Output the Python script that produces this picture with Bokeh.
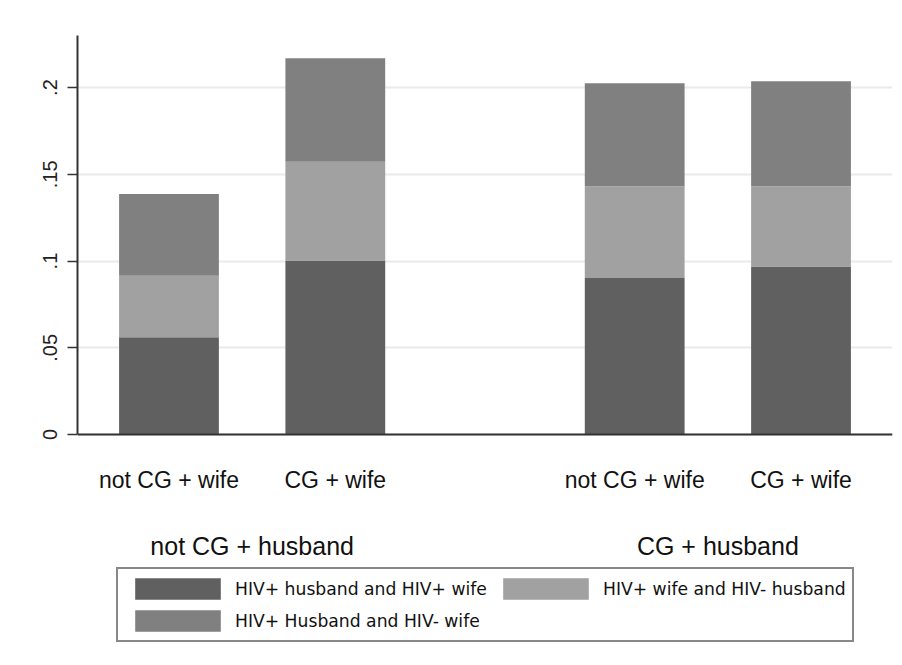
from bokeh.plotting import figure
from bokeh.models import (FactorRange, Range1d, FixedTicker, Legend, LegendItem,
                          ColumnDataSource, CustomJSTickFormatter, Span)
from bokeh.core.properties import value
from bokeh.embed import file_html
from bokeh.resources import INLINE

# ---- data ----
groups = ["not CG + husband", "CG + husband"]
subgroups = ["not CG + wife", "CG + wife"]
both_pos = [0.0561, 0.1003, 0.0903, 0.0968]      # HIV+ husband and HIV+ wife
wife_pos = [0.0354, 0.0570, 0.0528, 0.0463]      # HIV+ wife and HIV- husband
husb_pos = [0.0472, 0.0596, 0.0594, 0.0605]      # HIV+ Husband and HIV- wife
series_labels = ["HIV+ husband and HIV+ wife", "HIV+ wife and HIV- husband",
                 "HIV+ Husband and HIV- wife"]
y_ticks = [0, 0.05, 0.1, 0.15, 0.2]

factors = [(g, s) for g in groups for s in subgroups]
source = ColumnDataSource(dict(x=factors, both=both_pos, wife=wife_pos, husb=husb_pos))

colors = ["#606060", "#a1a1a1", "#808080"]
FONT = "Liberation Sans"
GROUP_PAD = 0.8
Y_TOP = 0.23
PX_PER_UNIT = 1735.0          # vertical pixels per data unit
FRAME_H = 665 - 35            # frame reaches the bottom of the canvas
Y_BOTTOM = Y_TOP - FRAME_H / PX_PER_UNIT

p = figure(width=902, height=665,
           x_range=FactorRange(*factors, group_padding=GROUP_PAD, range_padding=0.05,
                               range_padding_units="absolute"),
           y_range=Range1d(Y_BOTTOM, Y_TOP),
           x_axis_location=None,
           output_backend="svg", toolbar_location=None,
           min_border_left=77, min_border_right=10, min_border_top=35,
           min_border_bottom=0)
p.outline_line_color = None
p.background_fill_color = "white"
p.border_fill_color = "white"

rs = p.vbar_stack(["both", "wife", "husb"], x="x", width=0.6, color=colors,
                  line_color=None, source=source)

# grid
p.xgrid.grid_line_color = None
p.ygrid.grid_line_color = "#eaeaea"
p.ygrid.grid_line_width = 2

# y axis (line limited to the data part of the range)
ya = p.yaxis[0]
ya.bounds = (0, Y_TOP)
ya.ticker = FixedTicker(ticks=y_ticks)
ya.formatter = CustomJSTickFormatter(code="""
    if (tick == 0) return '0';
    return tick.toFixed(2).replace(/^0/, '').replace(/0$/, '');
""")
ya.major_label_orientation = "parallel"
ya.major_label_text_font = FONT
ya.major_label_text_font_size = "20px"
ya.major_label_text_color = "#222222"
ya.major_label_standoff = 10
ya.major_tick_out = 10
ya.major_tick_in = 0
ya.minor_tick_out = 0
ya.minor_tick_in = 0
ya.axis_line_color = "#333333"
ya.axis_line_width = 2
ya.major_tick_line_color = "#333333"
ya.major_tick_line_width = 1.5

# category baseline (x axis line at zero)
p.add_layout(Span(location=0, dimension="width", line_color="#333333", line_width=2))

# category labels
sub_src = ColumnDataSource(dict(x=factors, lbl=[s for _, s in factors],
                                y=[-45.5 / PX_PER_UNIT] * len(factors)))
p.text(x="x", y="y", text="lbl", source=sub_src, text_align="center",
       text_baseline="alphabetic", text_font=value(FONT), text_font_size="23px",
       text_color="#111111")

grp_src = ColumnDataSource(dict(x=groups, lbl=groups,
                                y=[-111.0 / PX_PER_UNIT] * len(groups)))
p.text(x="x", y="y", text="lbl", source=grp_src, text_align="center",
       text_baseline="alphabetic", text_font=value(FONT), text_font_size="25px",
       text_color="#111111")

# legend
items = [LegendItem(label=series_labels[i], renderers=[rs[i]]) for i in range(3)]
legend = Legend(items=items, location=(39, 23), orientation="horizontal",
                ncols=2, glyph_width=107, glyph_height=27, label_standoff=4,
                spacing=5, padding=6, margin=0,
                label_text_font="DejaVu Sans", label_text_font_size="17.2px",
                label_text_color="#111111",
                border_line_color="#111111", border_line_width=2,
                background_fill_color="white", background_fill_alpha=1)
p.add_layout(legend, "center")

open("out.html", "w").write(file_html(p, INLINE))
